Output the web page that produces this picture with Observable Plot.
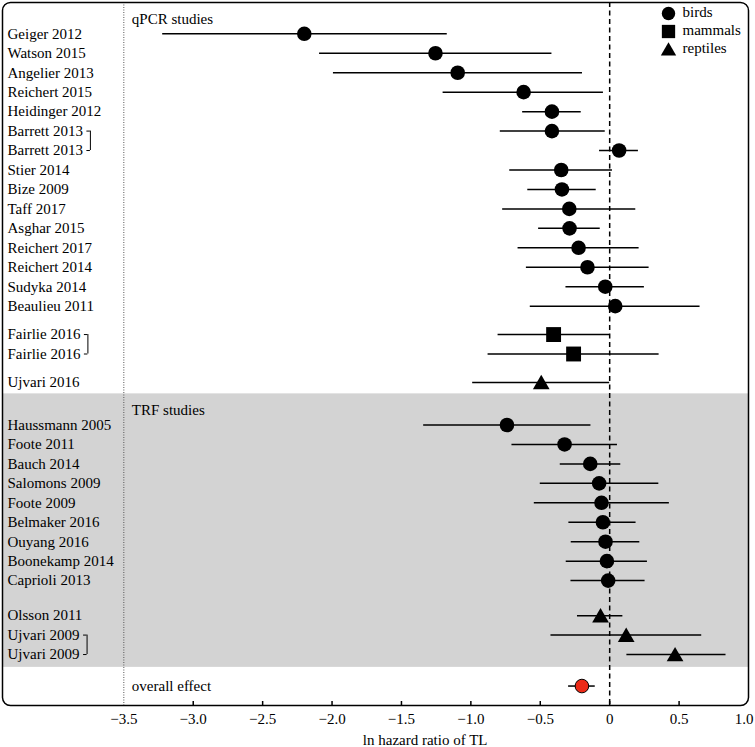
<!DOCTYPE html>
<html><head><meta charset="utf-8">
<script src="https://cdn.jsdelivr.net/npm/d3@7"></script>
<script src="https://cdn.jsdelivr.net/npm/@observablehq/plot@0.6"></script>
<style>
body{margin:0;background:#fff;}
#chart svg{display:block;}
</style></head><body><div id="chart"></div>
<script>
// ---------- data ----------
const studies = ["Geiger 2012","Watson 2015","Angelier 2013","Reichert 2015","Heidinger 2012","Barrett 2013","Barrett 2013","Stier 2014","Bize 2009","Taff 2017","Asghar 2015","Reichert 2017","Reichert 2014","Sudyka 2014","Beaulieu 2011","Fairlie 2016","Fairlie 2016","Ujvari 2016","Haussmann 2005","Foote 2011","Bauch 2014","Salomons 2009","Foote 2009","Belmaker 2016","Ouyang 2016","Boonekamp 2014","Caprioli 2013","Olsson 2011","Ujvari 2009","Ujvari 2009"];
const method = ["qPCR","qPCR","qPCR","qPCR","qPCR","qPCR","qPCR","qPCR","qPCR","qPCR","qPCR","qPCR","qPCR","qPCR","qPCR","qPCR","qPCR","qPCR","TRF","TRF","TRF","TRF","TRF","TRF","TRF","TRF","TRF","TRF","TRF","TRF"];
const taxon = ["birds","birds","birds","birds","birds","birds","birds","birds","birds","birds","birds","birds","birds","birds","birds","mammals","mammals","reptiles","birds","birds","birds","birds","birds","birds","birds","birds","birds","reptiles","reptiles","reptiles"];
const estimate = [-2.20,-1.255,-1.095,-0.62,-0.416,-0.416,0.068,-0.349,-0.344,-0.291,-0.289,-0.224,-0.16,-0.032,0.04,-0.404,-0.26,-0.493,-0.74,-0.325,-0.14,-0.076,-0.059,-0.049,-0.03,-0.02,-0.011,-0.066,0.119,0.471];
const lower = [-3.22,-2.09,-1.99,-1.20,-0.627,-0.788,-0.073,-0.72,-0.59,-0.771,-0.512,-0.66,-0.60,-0.315,-0.572,-0.804,-0.876,-0.987,-1.34,-0.704,-0.356,-0.50,-0.543,-0.294,-0.277,-0.313,-0.279,-0.232,-0.423,0.124];
const upper = [-1.17,-0.416,-0.196,-0.045,-0.205,-0.032,0.207,0.02,-0.097,0.188,-0.068,0.212,0.284,0.25,0.651,0.0,0.356,0.0,-0.135,0.056,0.08,0.354,0.43,0.19,0.217,0.272,0.255,0.095,0.663,0.838];
const bracketPairs = [[5,6],[15,16],[28,29]];
const sectionNames = {qPCR: "qPCR studies", TRF: "TRF studies"};
const overallLabel = "overall effect";
const overallEstimate = -0.20, overallLower = -0.296, overallUpper = -0.104;
const taxa = ["birds","mammals","reptiles"];
const tickValues = [-3.5,-3.0,-2.5,-2.0,-1.5,-1.0,-0.5,0,0.5,1.0];
const xLabel = "ln hazard ratio of TL";

// ---------- layout ----------
const W = 755, H = 747;
const mL = 2, mR = 7, mT = 2, mB = 42;
const xDomain = [-4.374, 1.0];
const dividerX = -3.5;
const FONT = "'Liberation Serif','Times New Roman',serif";
const FS = 15;
const groupGap = {"qPCR|mammals":0.46,"qPCR|reptiles":0.46,"TRF|birds":1.19,"TRF|reptiles":0.8};
const symbolRange = ["circle","square","triangle"];
const symbolR = {birds:7.3, mammals:8.4, reptiles:6.2};
const symbolDy = {birds:0, mammals:0, reptiles:2};
const legendR = {birds:6.7, mammals:7.5, reptiles:5.7};

const ypos = [];
let pos = 0;
studies.forEach((s,i) => {
  if (i > 0) {
    const key = method[i] + "|" + taxon[i];
    const prev = method[i-1] + "|" + taxon[i-1];
    pos += 1 + (key !== prev ? (groupGap[key] || 0) : 0);
  }
  ypos.push(pos);
});
const rows = studies.map((s,i) => ({study:s, method:method[i], taxon:taxon[i], est:estimate[i], lo:lower[i], hi:upper[i], y:ypos[i]}));
const overallY = ypos[ypos.length-1] + 1.62;
const overall = [{label: overallLabel, est: overallEstimate, lo: overallLower, hi: overallUpper, y: overallY}];
const yDomain = [ypos[0] - 1.61, overallY + 1.0];

const sections = Object.keys(sectionNames).map(m => {
  const r = rows.filter(d => d.method === m);
  return {label: sectionNames[m], y: r[0].y - 0.75, y1: r[0].y - 1.6, y2: r[r.length-1].y + 0.66};
});
const band = [sections[1]];

// bracket x from measured label widths
const ctx = document.createElement("canvas").getContext("2d");
ctx.font = `${FS}px ${FONT}`;
const pxPerUnit = (W - mL - mR) / (xDomain[1] - xDomain[0]);
const brackets = bracketPairs.map(([a,b]) => {
  const w = Math.max(ctx.measureText(studies[a]).width, ctx.measureText(studies[b]).width);
  const px = 5 + w + 7.5; // from frame left
  const x = xDomain[0] + px / pxPerUnit;
  const x0 = x - 3.5 / pxPerUnit;
  return {x, x0, y1: ypos[a], y2: ypos[b]};
});
const bracketTicks = brackets.flatMap(b => [{x0:b.x0, x:b.x, y:b.y1},{x0:b.x0, x:b.x, y:b.y2}]);

const fmt = v => v === 0 ? "0" : (v < 0 ? "\u2212" : "") + Math.abs(v).toFixed(1);
const frameH = H - mT - mB;
const innerTicks = tickValues.filter(v => v > dividerX && v < xDomain[1]);
const labelTicks = tickValues.filter(v => v < xDomain[1]);
const edgeTicks = tickValues.filter(v => v >= xDomain[1]);
const axisMid = (tickValues[0] + tickValues[tickValues.length-1]) / 2;

const marks = [
  Plot.rect(band, {x1: () => xDomain[0], x2: () => xDomain[1], y1: "y1", y2: "y2", fill: "#d3d3d3"}),
  Plot.ruleX([dividerX], {x: d => d, stroke: "#555", strokeWidth: 1, strokeDasharray: "1,1.5"}),
  Plot.ruleX([0], {x: d => d, stroke: "black", strokeWidth: 1.5, strokeDasharray: "5,3.5"}),
  Plot.ruleY(rows, {y: "y", x1: "lo", x2: "hi", stroke: "black", strokeWidth: 1.5}),
  ...taxa.map(t => Plot.dot(rows.filter(d => d.taxon === t), {x: "est", y: "y", symbol: "taxon", fill: "black", r: symbolR[t], dy: symbolDy[t]})),
  Plot.ruleY(overall, {y: "y", x1: "lo", x2: "hi", stroke: "black", strokeWidth: 1.5}),
  Plot.dot(overall, {x: "est", y: "y", r: 6.8, fill: "#ec2a17", stroke: "black", strokeWidth: 1}),
  Plot.text(rows, {y: "y", text: "study", frameAnchor: "left", dx: 5, textAnchor: "start", lineAnchor: "middle", fontSize: FS, fill: "black"}),
  Plot.text(sections, {x: () => dividerX, y: "y", text: "label", dx: 8, textAnchor: "start", lineAnchor: "middle", fontSize: FS, fill: "black"}),
  Plot.text(overall, {x: () => dividerX, y: "y", text: "label", dx: 8, textAnchor: "start", lineAnchor: "middle", fontSize: FS, fill: "black"}),
  Plot.ruleX(brackets, {x: "x", y1: "y1", y2: "y2", stroke: "black", strokeWidth: 1}),
  Plot.ruleY(bracketTicks, {y: "y", x1: "x0", x2: "x", stroke: "black", strokeWidth: 1}),
  Plot.ruleX(innerTicks, {x: d => d, insetTop: frameH - 4, stroke: "black", strokeWidth: 1.5}),
  Plot.text(labelTicks, {x: d => d, text: fmt, frameAnchor: "bottom", lineAnchor: "middle", dy: 14, fontSize: FS, fill: "black"}),
  Plot.text(edgeTicks, {x: d => d, text: fmt, frameAnchor: "bottom", lineAnchor: "middle", textAnchor: "end", dx: 5, dy: 14, fontSize: FS, fill: "black"}),
  Plot.text([xLabel], {x: () => axisMid, text: d => d, frameAnchor: "bottom", lineAnchor: "middle", dy: 35, dx: -11, fontSize: FS, fill: "black"}),
  ...taxa.map((t,i) => Plot.dot([t], {symbol: d => d, frameAnchor: "top-right", dx: -80, dy: 11 + 18*i + symbolDy[t]*0.8, r: legendR[t], fill: "black"})),
  ...taxa.map((t,i) => Plot.text([t], {text: d => d, frameAnchor: "top-right", dx: -66, dy: 10 + 18*i, textAnchor: "start", lineAnchor: "middle", fontSize: FS, fill: "black"})),
  Plot.frame({stroke: "black", strokeWidth: 1.5, rx: 8})
];

const plot = Plot.plot({
  width: W, height: H,
  marginLeft: mL, marginRight: mR, marginTop: mT, marginBottom: mB,
  style: {fontFamily: FONT, fontSize: FS + "px", background: "white", color: "black"},
  x: {domain: xDomain, axis: null},
  y: {domain: yDomain, reverse: true, axis: null},
  symbol: {domain: taxa, range: symbolRange},
  marks
});
document.getElementById("chart").appendChild(plot);
</script></body></html>
